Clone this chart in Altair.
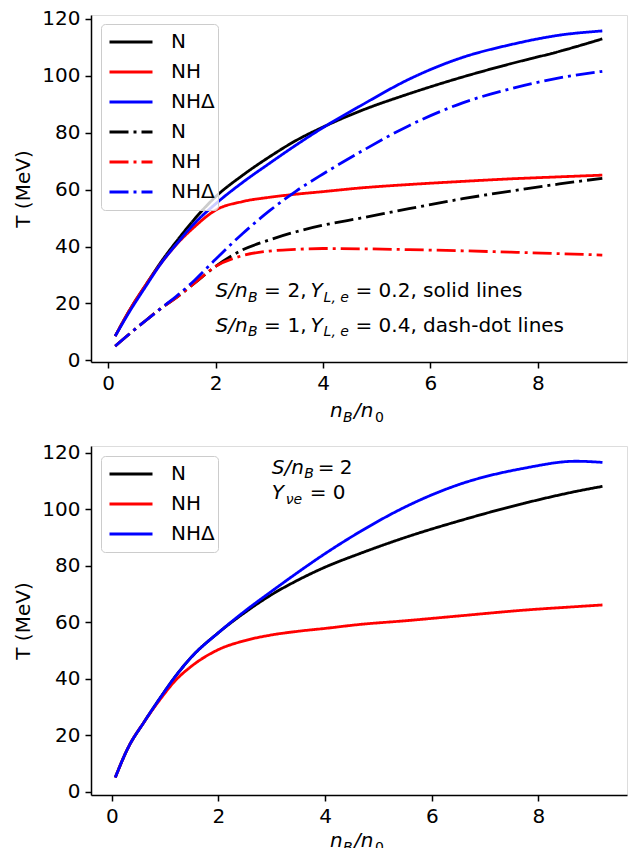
import altair as alt
import pandas as pd

FONT = "DejaVu Sans"

# ---------------- data: top panel ----------------
x_top = [0.13, 0.41, 0.7, 1.0, 1.3, 1.6, 2.0, 2.5, 3.0, 3.5, 4.0, 4.7, 5.6, 6.6, 7.5, 8.4, 9.2]
top_N_solid = [8.5, 18, 26.5, 35, 42.5, 49.5, 57.5, 65, 71.5, 77.3, 82, 87.7, 93.7, 99.6, 104.3, 108.6, 113]
top_NH_solid = [8.5, 18, 26.5, 34.5, 41.3, 46.8, 52.8, 55.8, 57.3, 58.4, 59.3, 60.6, 61.8, 62.9, 63.8, 64.5, 65.1]
top_NHD_solid = [8.5, 17.5, 26, 34.5, 41.5, 48, 55, 62.5, 69.2, 75.7, 81.8, 89.5, 98.8, 106.5, 111, 114.3, 115.8]
top_N_dd = [5, 9.5, 14, 18.5, 22.5, 27, 33, 38.8, 42.3, 45.2, 47.5, 50, 53.3, 56.8, 59.5, 62, 64]
top_NH_dd = [5, 9.5, 14, 18.5, 22.5, 27, 33, 36.8, 38.4, 39, 39.3, 39.2, 38.9, 38.5, 38, 37.5, 37]
top_NHD_dd = [5, 9.5, 14, 18.5, 23, 28, 35.5, 44.5, 52.5, 59.5, 65.5, 73.3, 82.5, 90.5, 95.5, 99.3, 101.6]

# ---------------- data: bottom panel ----------------
x_bot = [0.065, 0.31, 0.6, 0.9, 1.2, 1.5, 2.0, 2.5, 3.0, 3.5, 4.0, 4.65, 5.5, 6.5, 7.75, 8.7, 9.2]
bot_N = [5, 15.7, 24.5, 33, 41, 47.8, 56.3, 63.5, 69.8, 75, 79.5, 84.3, 90, 95.8, 102.2, 106.3, 108.1]
bot_NH = [5, 15.7, 24.5, 32.5, 39.5, 44.5, 50.3, 53.5, 55.5, 56.8, 57.8, 59.2, 60.5, 62.2, 64.3, 65.5, 66.1]
bot_NHD = [5, 15.7, 24.5, 33, 41, 47.8, 56.3, 64, 71, 77.8, 84.3, 92, 100.8, 108.7, 114.6, 117, 116.6]

top_series = ["N", "NH", "NHΔ", "N ", "NH ", "NHΔ "]
top_colors = ["black", "red", "blue", "black", "red", "blue"]
bot_series = ["N", "NH", "NHΔ"]
bot_colors = ["black", "red", "blue"]
SOLID = [1, 0]
DASHDOT = [19, 5, 3, 5]
top_dashes = [SOLID, SOLID, SOLID, DASHDOT, DASHDOT, DASHDOT]
bot_dashes = [SOLID, SOLID, SOLID]

x_ticks = [0, 2, 4, 6, 8]
y_ticks = [0, 20, 40, 60, 80, 100, 120]

W = 536
H1 = 347
H2 = 349


def long_df(xs, names, ys_list):
    rows = []
    for name, ys in zip(names, ys_list):
        for x, y in zip(xs, ys):
            rows.append({"x": x, "T": y, "series": name})
    return pd.DataFrame(rows)


df_top = long_df(x_top, top_series, [top_N_solid, top_NH_solid, top_NHD_solid,
                                     top_N_dd, top_NH_dd, top_NHD_dd])
df_bot = long_df(x_bot, bot_series, [bot_N, bot_NH, bot_NHD])


def x_axis():
    return alt.Axis(values=x_ticks, title=None, grid=False, labelFont=FONT, labelFontSize=20,
                    labelColor="black", tickColor="black", domainColor="black", tickSize=6,
                    tickWidth=1.5, domainWidth=1.5, labelPadding=5, labelFlush=False)


def y_axis():
    return alt.Axis(values=y_ticks, title="T (MeV)", grid=False, labelFont=FONT, labelFontSize=20,
                    labelColor="black", tickColor="black", domainColor="black", tickSize=6,
                    tickWidth=1.5, domainWidth=1.5, labelPadding=5, labelFlush=False,
                    titleFont=FONT, titleFontSize=20, titleFontWeight="normal", titleColor="black",
                    titlePadding=8)


def legend(lx, ly):
    return alt.Legend(title=None, orient="none", legendX=lx, legendY=ly, symbolType="stroke",
                      symbolSize=1849, symbolStrokeWidth=2.8, clipHeight=30, rowPadding=0,
                      padding=3, symbolOffset=4, labelOffset=17, labelFont=FONT, labelFontSize=20,
                      labelColor="black", strokeColor="#cccccc", fillColor="rgba(255,255,255,0.8)",
                      cornerRadius=4, labelLimit=0)


def lines(df, names, colors, dashes, xdom, ydom, leg):
    return alt.Chart(df).mark_line(strokeWidth=2.8, interpolate="monotone").encode(
        x=alt.X("x:Q", scale=alt.Scale(domain=xdom, nice=False, zero=False), axis=x_axis()),
        y=alt.Y("T:Q", scale=alt.Scale(domain=ydom, nice=False, zero=False), axis=y_axis()),
        color=alt.Color("series:N", scale=alt.Scale(domain=names, range=colors), legend=leg),
        strokeDash=alt.StrokeDash("series:N", scale=alt.Scale(domain=names, range=dashes), legend=leg),
    )


def piece(text, xd, yd, dx, dy=0, size=20, italic=False):
    kw = dict(align="left", baseline="alphabetic", dx=dx, dy=dy, font=FONT, fontSize=size,
              color="black")
    if italic:
        kw["fontStyle"] = "italic"
    return alt.Chart(pd.DataFrame({"t": [text]})).mark_text(**kw).encode(
        x=alt.datum(xd), y=alt.datum(yd), text="t:N")


def pix(text, px, py, size=20, italic=False):
    kw = dict(align="left", baseline="alphabetic", font=FONT, fontSize=size, color="black")
    if italic:
        kw["fontStyle"] = "italic"
    return alt.Chart(pd.DataFrame({"t": [text]})).mark_text(**kw).encode(
        x=alt.value(px), y=alt.value(py), text="t:N")


def xtitle(h, off):
    c = W / 2
    b = h + off
    return [pix("n", c - 29, b, italic=True),
            pix("B", c - 16, b + 4.5, size=14, italic=True),
            pix("/n", c - 5, b, italic=True),
            pix("0", c + 16, b + 4.5, size=14)]


SUB = 4.5
# top annotation
ax, y1, y2 = 2.0, 22.2, 10.0
top_notes = [
    piece("S/n", ax, y1, 0, italic=True), piece("B", ax, y1, 32.5, SUB, 14, True),
    piece("=", ax, y1, 48.5), piece("2,", ax, y1, 72),
    piece("Y", ax, y1, 95, italic=True), piece("L, e", ax, y1, 108, SUB, 14, True),
    piece("=", ax, y1, 140), piece("0.2, solid lines", ax, y1, 163),
    piece("S/n", ax, y2, 0, italic=True), piece("B", ax, y2, 32.5, SUB, 14, True),
    piece("=", ax, y2, 48.5), piece("1,", ax, y2, 72),
    piece("Y", ax, y2, 95, italic=True), piece("L, e", ax, y2, 108, SUB, 14, True),
    piece("=", ax, y2, 140), piece("0.4, dash-dot lines", ax, y2, 163),
]
# bottom annotation
bx, b1, b2 = 3.0, 112.5, 103.6
bot_notes = [
    piece("S/n", bx, b1, 0, italic=True), piece("B", bx, b1, 32.5, SUB, 14, True),
    piece("=", bx, b1, 46), piece("2", bx, b1, 68),
    piece("Y", bx, b2, 0, italic=True), piece("νe", bx, b2, 14, SUB, 14, True),
    piece("=", bx, b2, 38), piece("0", bx, b2, 61),
]

top = alt.layer(
    lines(df_top, top_series, top_colors, top_dashes, [-0.32, 9.66], [-0.6, 121.4], legend(10, 9)),
    *top_notes, *xtitle(H1, 55)
).properties(width=W, height=H1)

bot = alt.layer(
    lines(df_bot, bot_series, bot_colors, bot_dashes, [-0.39, 9.66], [-1.2, 122.4], legend(10, 10)),
    *bot_notes, *xtitle(H2, 52)
).properties(width=W, height=H2)

chart = alt.vconcat(top, bot, spacing=17).resolve_scale(
    color="independent", strokeDash="independent", x="independent", y="independent"
).resolve_legend(color="independent", strokeDash="independent").properties(
    padding={"left": 5, "top": 0, "right": 5, "bottom": 0}
).configure_view(stroke="black", strokeWidth=1.5).configure(background="white")

chart.save("out.html", embed_options={"renderer": "svg", "actions": False})
